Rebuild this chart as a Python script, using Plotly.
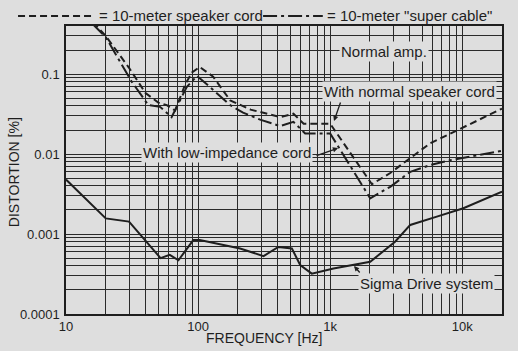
import plotly.graph_objects as go

# ---- data ----
freq_cord = [16, 20, 30, 40, 50, 58, 67, 80, 90, 103, 130, 175, 250, 420, 527, 630, 1000, 2070, 2850, 5730, 8100, 20000]
dist_cord = [0.45, 0.30, 0.12, 0.058, 0.044, 0.041, 0.035, 0.075, 0.105, 0.123, 0.093, 0.047, 0.036, 0.029, 0.032, 0.024, 0.024, 0.0042, 0.0058, 0.0137, 0.018, 0.037]

freq_super = [16, 20, 31.5, 42, 51.5, 63, 82, 98, 123, 175, 219, 295, 418, 527, 647, 1000, 2010, 2850, 4040, 5730, 8100, 20000]
dist_super = [0.42, 0.29, 0.08, 0.041, 0.039, 0.029, 0.069, 0.095, 0.069, 0.041, 0.033, 0.027, 0.0224, 0.0253, 0.0181, 0.0181, 0.0028, 0.0039, 0.006, 0.0073, 0.0084, 0.011]

freq_sigma = [10, 20, 30, 52, 61, 71, 92, 103, 208, 313, 405, 513, 593, 726, 1060, 2010, 3100, 4040, 6420, 10200, 20000]
dist_sigma = [0.0048, 0.00157, 0.00143, 0.0005, 0.00055, 0.00047, 0.00084, 0.00084, 0.00066, 0.00053, 0.00069, 0.00066, 0.00041, 0.00032, 0.00037, 0.00045, 0.0008, 0.0013, 0.00165, 0.0021, 0.0034]

x_grid = [m * 10 ** e for e in (1, 2, 3) for m in range(1, 10)] + [10000, 20000]
x_labels = {10: "10", 100: "100", 1000: "1k", 10000: "10k"}
y_grid = [round(m * 10 ** e, 6) for e in (-4, -3, -2) for m in range(1, 10)] + [0.1, 0.2, 0.3, 0.4]
y_labels = {0.0001: "0.0001", 0.001: "0.001", 0.01: "0.01", 0.1: "0.1"}

INK = "#1e1e1e"
BG = "#dedede"
FONT = "Liberation Sans, Arial, sans-serif"

fig = go.Figure()
fig.add_trace(go.Scatter(x=freq_cord, y=dist_cord, mode="lines",
                         line=dict(color=INK, width=2, dash="7px,4px"), name="10-meter speaker cord"))
fig.add_trace(go.Scatter(x=freq_super, y=dist_super, mode="lines",
                         line=dict(color=INK, width=2, dash="14px,4px,3px,4px"), name='10-meter "super cable"'))
fig.add_trace(go.Scatter(x=freq_sigma, y=dist_sigma, mode="lines",
                         line=dict(color=INK, width=2), name="Sigma Drive system"))

fig.update_xaxes(type="log", range=[1, 4.30103],
                 tickvals=x_grid, ticktext=[x_labels.get(v, "") for v in x_grid],
                 showgrid=True, gridcolor="#2a2a2a", gridwidth=1, zeroline=False,
                 showline=True, linecolor=INK, linewidth=1.5, mirror=True, ticks="",
                 tickfont=dict(family=FONT, size=13, color=INK))
fig.update_yaxes(type="log", range=[-4, -0.39794],
                 tickvals=y_grid, ticktext=[y_labels.get(v, "") for v in y_grid],
                 showgrid=True, gridcolor="#2a2a2a", gridwidth=1, zeroline=False,
                 showline=True, linecolor=INK, linewidth=1.5, mirror=True, ticks="",
                 ticklabelstandoff=2,
                 tickfont=dict(family=FONT, size=13, color=INK))

ann = []
# axis titles
ann.append(dict(text="FREQUENCY [Hz]", x=0.454, y=-0.083, xref="paper", yref="paper",
                xanchor="center", yanchor="middle",
                showarrow=False, font=dict(family=FONT, size=14, color=INK)))
ann.append(dict(text="DISTORTION [%]", x=-0.119, y=0.493, xref="paper", yref="paper",
                xanchor="center", yanchor="middle",
                showarrow=False, textangle=-90, font=dict(family=FONT, size=14, color=INK)))
# legend texts
ann.append(dict(text="= 10-meter speaker cord", x=0.071, y=1.035, xref="paper", yref="paper",
                xanchor="left", yanchor="middle", showarrow=False,
                font=dict(family=FONT, size=15, color=INK)))
ann.append(dict(text='= 10-meter "super cable"', x=0.594, y=1.035, xref="paper", yref="paper",
                xanchor="left", yanchor="middle", showarrow=False,
                font=dict(family=FONT, size=15, color=INK)))
# curve labels
for txt, x, y in [("Normal amp.", 0.729, 0.910),
                  ("With normal speaker cord", 0.788, 0.771),
                  ("With low-impedance cord", 0.370, 0.5625),
                  ("Sigma Drive system", 0.827, 0.1076)]:
    ann.append(dict(text=txt, x=x, y=y, xref="paper", yref="paper", showarrow=False,
                    xanchor="center", yanchor="middle",
                    bgcolor=BG, borderpad=1, font=dict(family=FONT, size=15, color=INK)))
# pointers
for x, y, ax, ay in [(0.6147, 0.670, 7, -20), (0.624, 0.576, -23, 8), (0.6606, 0.1667, 7, 8)]:
    ann.append(dict(text="", x=x, y=y, xref="paper", yref="paper", showarrow=True,
                    ax=ax, ay=ay, arrowhead=2, arrowsize=0.8, arrowwidth=1.3, arrowcolor=INK))

shapes = [
    dict(type="line", xref="paper", yref="paper", x0=-0.110, x1=0.066, y0=1.035, y1=1.035,
         line=dict(color=INK, width=2, dash="7px,4px")),
    dict(type="line", xref="paper", yref="paper", x0=0.452, x1=0.589, y0=1.035, y1=1.035,
         line=dict(color=INK, width=2, dash="14px,4px,3px,4px")),
]

fig.update_layout(width=518, height=351, margin=dict(l=66, r=16, t=26, b=37),
                  paper_bgcolor=BG, plot_bgcolor=BG, showlegend=False,
                  annotations=ann, shapes=shapes,
                  font=dict(family=FONT, color=INK))

fig.write_html("out.html")
